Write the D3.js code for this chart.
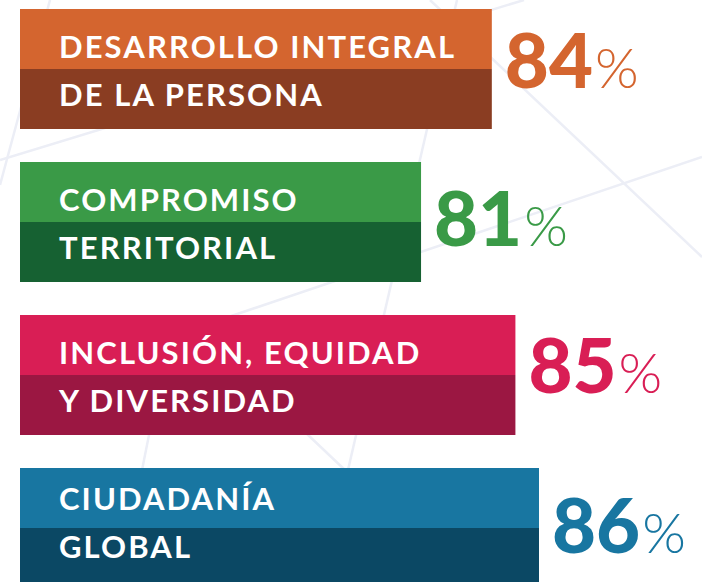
<!DOCTYPE html>
<html>
<head>
  <meta charset="utf-8">
  <style>
    body { margin: 0; background: #ffffff; }
    svg { display: block; }
    .label {
      fill: #ffffff;
      font-family: Lato, "Open Sans", sans-serif;
      font-weight: 700;
      font-size: 31px;
      letter-spacing: 2.1px;
    }
    .pct {
      font-family: Lato, "Open Sans", sans-serif;
      font-weight: 900;
      font-size: 76px;
    }
    .pct tspan { font-weight: 300; font-size: 56px; }
  </style>
  <script src="https://d3js.org/d3.v7.min.js"></script>
</head>
<body>
  <svg id="svg" width="702" height="582"></svg>
  <script>
    // data
    let topLines = ["DESARROLLO INTEGRAL", "COMPROMISO", "INCLUSIÓN, EQUIDAD", "CIUDADANÍA"];
    let bottomLines = ["DE LA PERSONA", "TERRITORIAL", "Y DIVERSIDAD", "GLOBAL"];
    let values = [84, 81, 85, 86];
    let lightColors = ["#d4652f", "#3a9a47", "#d91e55", "#1876a1"];
    let darkColors = ["#8a3d22", "#166132", "#9b1742", "#0b4864"];

    // faint background mesh (decoration only)
    let mesh = [
      [50, 0, 0, 185],
      [0, 160, 524, 0],
      [430, 0, 702, 257],
      [702, 157, 175, 335],
      [457, 0, 322, 582],
      [250, 380, 345, 470],
      [170, 330, 140, 480]
    ];

    let svg = d3.select("#svg");
    let left = 20, halfH = 60, step = 153, top0 = 9;
    let textNudge = [0, 0, 0, -7];
    let numNudge = [-2, 3, -3, 4];

    let x = d3.scaleLinear().domain([64, 86]).range([left, 539]);
    let y = d3.scaleBand().domain(d3.range(values.length))
      .range([top0, top0 + step * values.length]).paddingInner(0);

    svg.append("g").selectAll("line")
      .data(mesh)
      .enter()
      .append("line")
      .attr("x1", d => d[0]).attr("y1", d => d[1])
      .attr("x2", d => d[2]).attr("y2", d => d[3])
      .attr("stroke", "#eceef6")
      .attr("stroke-width", 2.5);

    let rows = svg.selectAll("g.row")
      .data(values)
      .enter()
      .append("g")
      .attr("class", "row")
      .attr("transform", (d, i) => "translate(0," + y(i) + ")");

    rows.append("rect")
      .attr("x", left).attr("y", 0)
      .attr("width", d => x(d) - left)
      .attr("height", halfH)
      .attr("fill", (d, i) => lightColors[i]);

    rows.append("rect")
      .attr("x", left).attr("y", halfH)
      .attr("width", d => x(d) - left)
      .attr("height", halfH)
      .attr("fill", (d, i) => darkColors[i]);

    rows.append("text")
      .attr("class", "label")
      .attr("x", 59)
      .attr("y", (d, i) => 49 + textNudge[i])
      .text((d, i) => topLines[i]);

    rows.append("text")
      .attr("class", "label")
      .attr("x", 59)
      .attr("y", (d, i) => 97 + textNudge[i])
      .text((d, i) => bottomLines[i]);

    let pct = rows.append("text")
      .attr("class", "pct")
      .attr("x", d => x(d) + 13)
      .attr("y", (d, i) => halfH + 21 + numNudge[i])
      .attr("fill", (d, i) => lightColors[i])
      .text(d => d);

    pct.append("tspan")
      .attr("dx", 2)
      .text("%");
  </script>
</body>
</html>
